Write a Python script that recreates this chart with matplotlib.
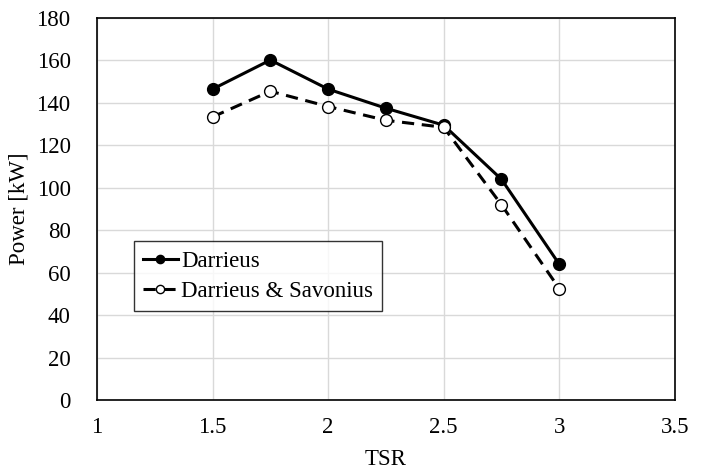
import matplotlib
matplotlib.use("Agg")
import matplotlib.pyplot as plt

tsr = [1.5, 1.75, 2.0, 2.25, 2.5, 2.75, 3.0]
darrieus = [146.5, 160.2, 146.5, 137.5, 129.5, 104, 64]
darrieus_savonius = [133.4, 145.5, 138.3, 131.8, 128.5, 92, 52.5]
xticks = [1, 1.5, 2, 2.5, 3, 3.5]
yticks = list(range(0, 181, 20))

plt.rcParams['font.family'] = ['Liberation Serif', 'DejaVu Serif']

fig = plt.figure(figsize=(7.16, 4.74), dpi=100)
ax = fig.add_axes([0.1355, 0.156, 0.807, 0.806])

ax.plot(tsr, darrieus, color='black', lw=2.2, marker='o', ms=8.5,
        mfc='black', mec='black', label='Darrieus', zorder=3)
ax.plot(tsr, darrieus_savonius, color='black', lw=2.2, ls=(0, (4, 2.5)), marker='o', ms=8.5,
        mfc='white', mec='black', mew=1.0, label='Darrieus & Savonius', zorder=4)

ax.set_xlim(1, 3.5)
ax.set_ylim(0, 180)
ax.set_xticks(xticks)
ax.set_xticklabels([f"{v:g}" for v in xticks])
ax.set_yticks(yticks)
ax.grid(True, color='#d9d9d9', lw=1.0)
ax.set_axisbelow(True)
ax.tick_params(length=0, labelsize=16.5)
ax.tick_params(axis='x', pad=12)
ax.tick_params(axis='y', pad=19)
for s in ax.spines.values():
    s.set_color('black')
    s.set_linewidth(1.2)

ax.set_xlabel('TSR', fontsize=16.5, labelpad=8)
ax.set_ylabel('Power [kW]', fontsize=16.5, labelpad=5)

leg = ax.legend(loc='lower left', bbox_to_anchor=(0.064, 0.233), fontsize=16.5,
                frameon=True, fancybox=False, edgecolor='black', handlelength=1.5,
                handletextpad=0.15, borderpad=0.4, labelspacing=0.4, borderaxespad=0,
                markerscale=0.7)
leg.get_frame().set_linewidth(1.0)

fig.savefig('out.png', dpi=100)
